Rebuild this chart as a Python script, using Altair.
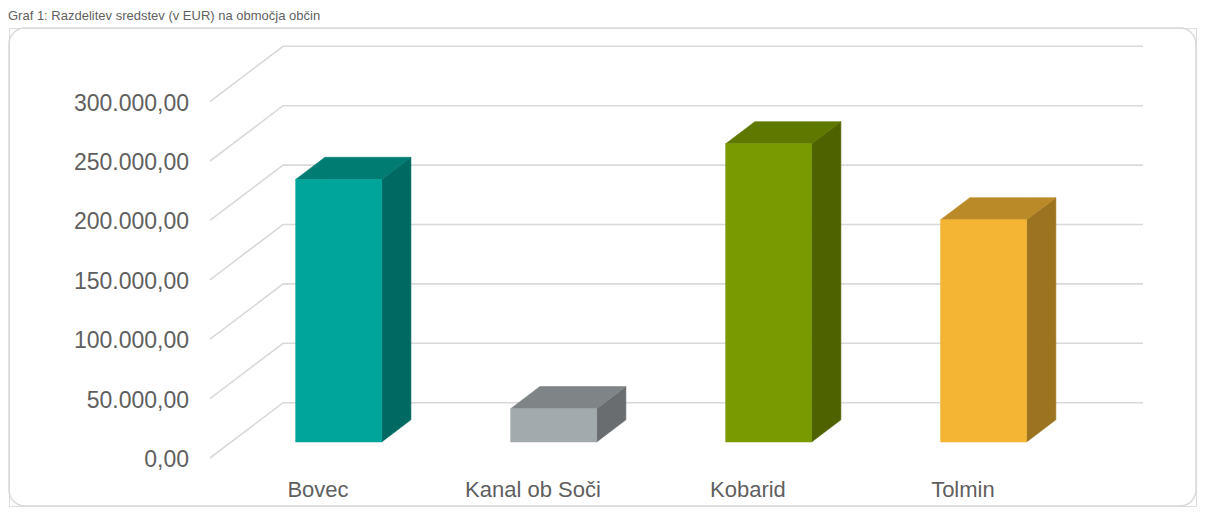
import altair as alt
import pandas as pd

# ---------------- data ----------------
categories = ["Bovec", "Kanal ob Soči", "Kobarid", "Tolmin"]
values = [221000, 28000, 251000, 187000]
front_colors = ["#00A59A", "#A2AAAD", "#7A9A01", "#F4B434"]
top_colors = ["#007C72", "#7F8486", "#5F7800", "#BA8A29"]
side_colors = ["#006A62", "#6A6D70", "#4E6200", "#9C7421"]
y_ticks = [0, 50000, 100000, 150000, 200000, 250000, 300000]
title_text = "Graf 1: Razdelitev sredstev (v EUR) na območja občin"

# ---------------- style / geometry ----------------
DEPTH_X = 0.34        # depth offset of back wall in slot units
DEPTH_Y = 46550       # depth offset of back wall in value units
T1, T2 = 0.29, 0.69   # bar front/back depth fractions
HALF_W = 0.2          # half bar width in slot units
N = len(categories)

VIEW_LEFT = 9
VIEW_TOP = 28
VIEW_RIGHT = 1196
VIEW_BOTTOM = 506
VIEW_W = VIEW_RIGHT - VIEW_LEFT
VIEW_H = VIEW_BOTTOM - VIEW_TOP

# grid (perspective) lines
grid_rows = []
for t in y_ticks:
    grid_rows.append({"tick": t, "o": 0, "x": 0.0, "y": t})
    grid_rows.append({"tick": t, "o": 1, "x": DEPTH_X, "y": t + DEPTH_Y})
    grid_rows.append({"tick": t, "o": 2, "x": N + DEPTH_X, "y": t + DEPTH_Y})
grid_df = pd.DataFrame(grid_rows)

front_rows, side_rows, top_rows = [], [], []
for i, (cat, v) in enumerate(zip(categories, values)):
    c = i + 0.5
    a = c - HALF_W + T1 * DEPTH_X
    b = c + HALF_W + T1 * DEPTH_X
    base = T1 * DEPTH_Y
    V = v + base
    d = (T2 - T1) * DEPTH_X
    e = (T2 - T1) * DEPTH_Y
    front_rows.append({"cat": cat, "x": a, "x2": b, "y": base, "y2": V,
                       "col": front_colors[i]})
    side_rows += [
        {"cat": cat, "x": b, "y": V, "y2": base, "col": side_colors[i]},
        {"cat": cat, "x": b + d, "y": V + e, "y2": base + e, "col": side_colors[i]},
    ]
    top_rows += [
        {"cat": cat, "x": a, "y": V, "y2": V, "col": top_colors[i]},
        {"cat": cat, "x": a + d, "y": V + e, "y2": V, "col": top_colors[i]},
        {"cat": cat, "x": b, "y": V + e, "y2": V, "col": top_colors[i]},
        {"cat": cat, "x": b + d, "y": V + e, "y2": V + e, "col": top_colors[i]},
    ]
front_df = pd.DataFrame(front_rows)
side_df = pd.DataFrame(side_rows)
top_df = pd.DataFrame(top_rows)

# ---------------- scales & axes ----------------
FONT = "Liberation Sans"
TXT = "#5F5F5F"

xscale = alt.Scale(domain=[0, N + DEPTH_X], range=[210 - VIEW_LEFT, 1143 - VIEW_LEFT], nice=False, zero=False)
yscale = alt.Scale(domain=[0, 300000 + DEPTH_Y], range=[458 - VIEW_TOP, 46.3 - VIEW_TOP], nice=False)

label_array = "[" + ",".join("'" + c + "'" for c in categories) + "]"
xaxis = alt.Axis(values=[i + 0.5 for i in range(N)], labelExpr=label_array + "[floor(datum.value)]",
                 title=None, domain=False, ticks=False, tickSize=0, grid=False,
                 labelFont=FONT, labelFontSize=22, labelColor=TXT, labelBaseline="middle",
                 labelPadding=0, offset=-(VIEW_BOTTOM - 489), labelFlush=False, labelOverlap=False,
                 zindex=1)
yaxis = alt.Axis(values=y_ticks, format=",.2f", title=None, domain=False, ticks=False, tickSize=0,
                 grid=False, labelFont=FONT, labelFontSize=23, labelColor=TXT,
                 labelPadding=21.5, offset=-(210 - VIEW_LEFT), labelOffset=1.5, zindex=1)

X = alt.X("x:Q", scale=xscale, axis=xaxis)
Y = alt.Y("y:Q", scale=yscale, axis=yaxis)

# rounded frame around the whole chart area (decoration)
frame = alt.Chart(pd.DataFrame({"k": [0]})).mark_rect(
    fill="transparent", stroke="#D9D9D9", strokeWidth=1.5, cornerRadius=16
).encode(x=alt.value(0), x2=alt.value(VIEW_W), y=alt.value(0), y2=alt.value(VIEW_H))

grid = alt.Chart(grid_df).mark_line(color="#D9D9D9", strokeWidth=1.6).encode(
    x=X, y=Y, detail="tick:N", order="o:Q")

side = alt.Chart(side_df).mark_area(strokeWidth=0.6).encode(
    x=X, y=Y, y2="y2:Q", color=alt.Color("col:N", scale=None), stroke=alt.Stroke("col:N", scale=None),
    detail="cat:N")

top = alt.Chart(top_df).mark_area(strokeWidth=0.6).encode(
    x=X, y=Y, y2="y2:Q", color=alt.Color("col:N", scale=None), stroke=alt.Stroke("col:N", scale=None),
    detail="cat:N")

front = alt.Chart(front_df).mark_rect(strokeWidth=0.6).encode(
    x=X, x2="x2:Q", y=Y, y2="y2:Q", color=alt.Color("col:N", scale=None),
    stroke=alt.Stroke("col:N", scale=None))

chart = alt.layer(grid, side, top, front, frame).properties(
    width=VIEW_W, height=VIEW_H,
    autosize=alt.AutoSizeParams(type="none"),
    padding={"left": VIEW_LEFT - 8, "top": VIEW_TOP - 8, "right": 1, "bottom": 1},
    title=alt.TitleParams(title_text, anchor="start", frame="group", fontSize=13, font=FONT,
                          color=TXT, fontWeight="normal", offset=4, dx=-1),
).configure_view(
    strokeWidth=0, fill="white"
).configure(
    locale={"number": {"decimal": ",", "thousands": ".", "grouping": [3], "currency": ["", " €"]}}
)

chart.save("out.html", embed_options={"renderer": "svg", "actions": False})
